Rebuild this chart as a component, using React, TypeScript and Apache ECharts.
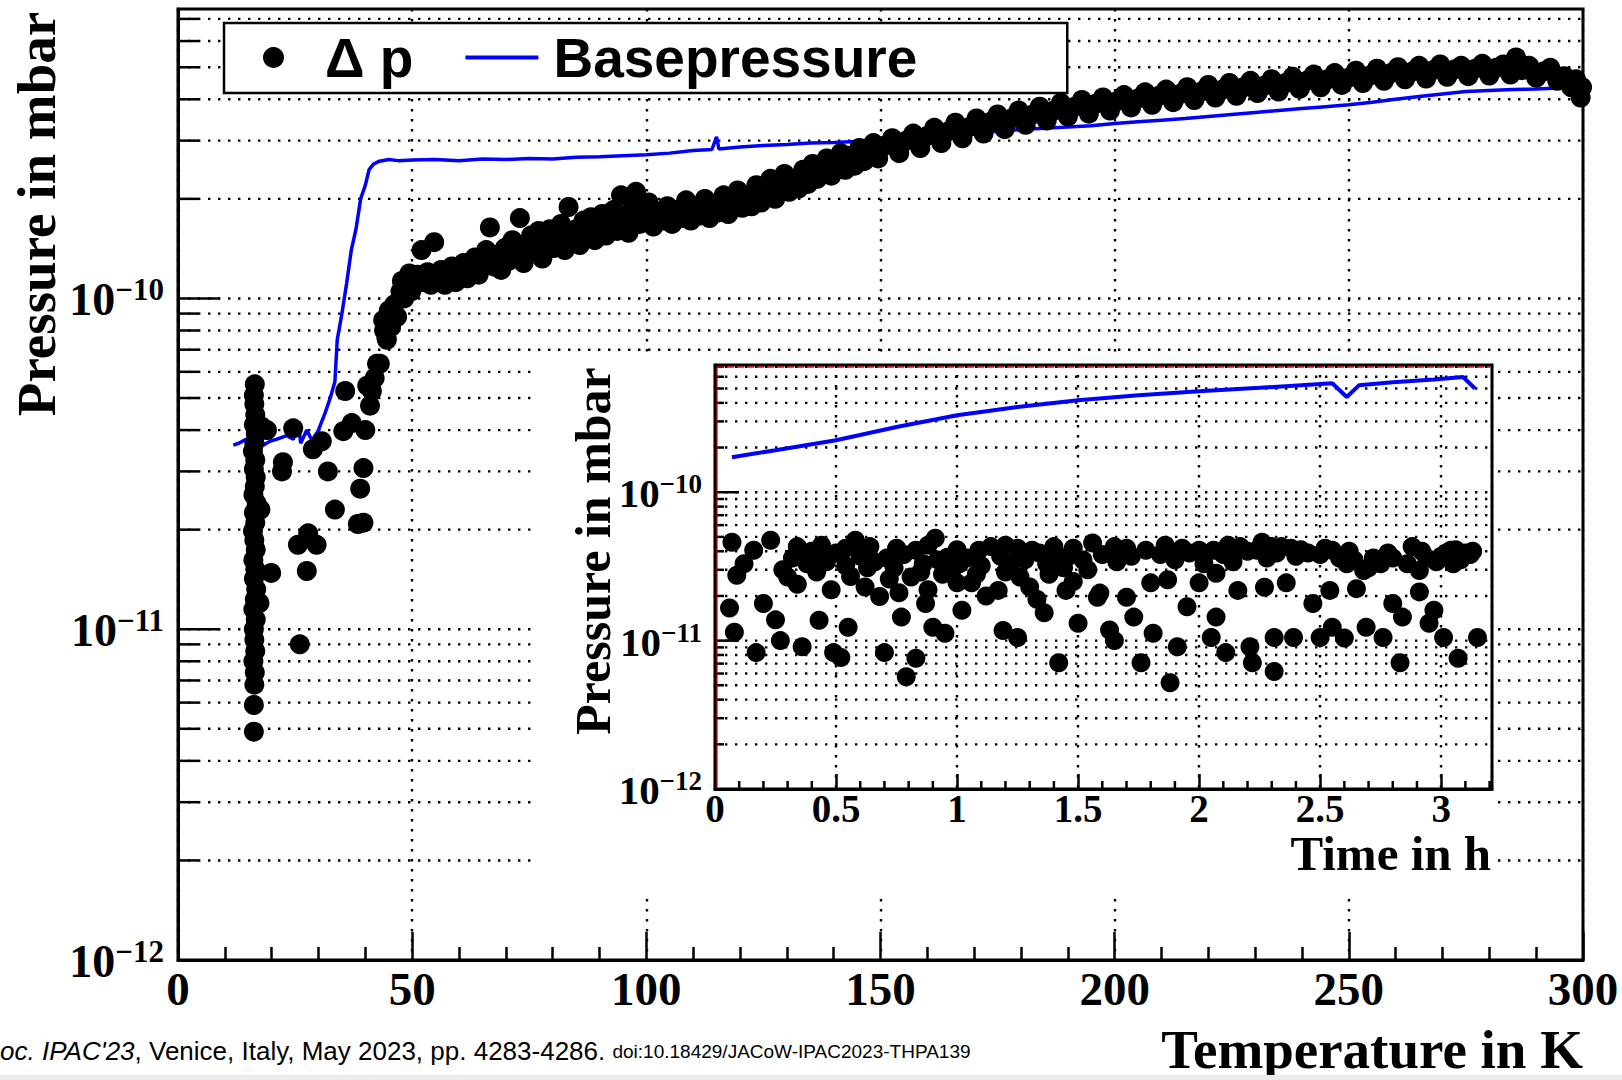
import React, { useEffect, useRef } from "react";
import * as echarts from "echarts";

const SERIF = "'Liberation Serif', 'Times New Roman', serif";
const SANS = "'Liberation Sans', Arial, sans-serif";

// ---------- axes ----------
const mainXMin = 0;
const mainXMax = 300;
const mainXStep = 50;
const mainYMin = 1e-12;
const mainYMax = 7.5e-10;
const mainYMajor = [1e-11, 1e-10];
const mainYMinor = [
  2e-12, 3e-12, 4e-12, 5e-12, 6e-12, 7e-12, 8e-12, 9e-12,
  2e-11, 3e-11, 4e-11, 5e-11, 6e-11, 7e-11, 8e-11, 9e-11,
  2e-10, 3e-10, 4e-10, 5e-10, 6e-10, 7e-10,
];

const insetXMin = 0;
const insetXMax = 3.21;
const insetXStep = 0.5;
const insetXMinor = [
  0.1, 0.2, 0.3, 0.4, 0.6, 0.7, 0.8, 0.9, 1.1, 1.2, 1.3, 1.4, 1.6, 1.7, 1.8, 1.9,
  2.1, 2.2, 2.3, 2.4, 2.6, 2.7, 2.8, 2.9, 3.1, 3.2,
];
const insetYMin = 1e-12;
const insetYMax = 7.2e-10;
const insetYMajor = [1e-11, 1e-10];
const insetYMinor = mainYMinor;

// ---------- main panel data: Temperature (K) vs pressure (mbar) ----------
const dpMain: [number, number][] = [
  [16.2, 4.9e-12], [16.2, 5.9e-12], [16.3, 6.8e-12], [16.4, 7.4e-12], [16.1, 8.0e-12], [16.5, 8.6e-12],
  [16.3, 9.3e-12], [16.2, 1.0e-11], [16.6, 1.07e-11], [16.1, 1.15e-11], [16.4, 1.23e-11], [16.7, 1.32e-11],
  [16.2, 1.42e-11], [16.5, 1.52e-11], [16.1, 1.62e-11], [16.6, 1.74e-11], [16.3, 1.86e-11], [16.0, 1.98e-11],
  [16.5, 2.1e-11], [16.2, 2.25e-11], [16.8, 2.4e-11], [16.1, 2.55e-11], [16.4, 2.7e-11], [16.6, 2.88e-11],
  [16.2, 3.05e-11], [16.5, 3.25e-11], [16.0, 3.45e-11], [16.3, 3.65e-11], [16.6, 3.9e-11], [16.2, 4.15e-11],
  [16.5, 4.45e-11], [16.3, 4.8e-11], [16.2, 5.1e-11], [16.4, 5.5e-11],
  [17.6, 2.3e-11], [17.4, 1.2e-11], [17.8, 4.1e-11], [19.0, 4.0e-11], [19.9, 1.48e-11],
  [22.4, 3.2e-11], [22.2, 3.0e-11], [24.6, 4.05e-11], [25.6, 1.8e-11], [26.0, 9.0e-12], [27.5, 1.5e-11],
  [27.8, 1.95e-11], [28.8, 3.5e-11], [29.6, 1.8e-11], [30.7, 3.7e-11], [32.0, 3.0e-11], [33.5, 2.3e-11],
  [35.3, 3.97e-11], [35.7, 5.25e-11], [37.1, 4.2e-11], [38.4, 2.08e-11], [38.9, 2.66e-11], [39.6, 3.07e-11],
  [39.6, 2.1e-11], [40.0, 4.0e-11], [40.4, 5.45e-11], [41.0, 4.74e-11], [41.4, 5.25e-11], [42.0, 5.75e-11],
  [42.5, 6.35e-11], [43.1, 6.35e-11], [43.8, 8.6e-11], [44.0, 8.0e-11], [44.5, 7.6e-11], [44.6, 7.5e-11],
  [45.0, 9.2e-11],
  [45.5, 8.2e-11], [46.2, 9.6e-11], [46.8, 8.8e-11], [47.5, 1.05e-10], [47.8, 1.13e-10], [48.3, 1.0e-10],
  [49.0, 1.12e-10], [49.4, 1.19e-10], [49.8, 1.05e-10],
  [50.5, 1.1e-10], [51.2, 1.18e-10], [52.0, 1.4e-10], [52.5, 1.12e-10], [53.3, 1.2e-10], [54.0, 1.1e-10],
  [54.7, 1.48e-10], [55.5, 1.15e-10], [56.2, 1.22e-10], [57.0, 1.1e-10], [57.8, 1.18e-10], [58.5, 1.25e-10],
  [59.3, 1.12e-10], [60.0, 1.2e-10],
  [61.0, 1.28e-10], [61.8, 1.15e-10], [62.6, 1.22e-10], [63.4, 1.33e-10], [64.2, 1.18e-10], [65.0, 1.27e-10],
  [65.8, 1.4e-10], [66.6, 1.64e-10], [67.4, 1.25e-10], [68.2, 1.35e-10], [69.0, 1.22e-10], [69.8, 1.42e-10],
  [70.6, 1.3e-10], [71.4, 1.5e-10], [72.2, 1.36e-10], [73.0, 1.75e-10], [73.8, 1.28e-10], [74.6, 1.45e-10],
  [75.4, 1.55e-10], [76.2, 1.38e-10], [77.0, 1.6e-10], [77.8, 1.32e-10], [78.6, 1.5e-10], [79.4, 1.62e-10],
  [80.2, 1.42e-10], [81.0, 1.55e-10], [81.8, 1.68e-10], [82.6, 1.4e-10], [83.4, 1.89e-10], [84.2, 1.52e-10],
  [85.0, 1.62e-10], [85.8, 1.45e-10], [86.6, 1.72e-10], [87.4, 1.56e-10], [88.2, 1.76e-10], [89.0, 1.5e-10],
  [89.8, 1.65e-10], [90.6, 1.8e-10], [91.4, 1.55e-10], [92.2, 1.7e-10], [93.0, 1.85e-10], [93.8, 1.6e-10],
  [94.6, 2.05e-10], [95.4, 1.72e-10], [96.2, 1.58e-10], [97.0, 1.88e-10], [97.8, 2.1e-10], [98.6, 1.68e-10],
  [99.4, 1.8e-10],
  [100.5, 1.95e-10], [101.5, 1.65e-10], [102.5, 1.82e-10], [103.5, 1.72e-10], [104.5, 1.9e-10], [105.5, 1.68e-10],
  [106.5, 1.85e-10], [107.5, 1.75e-10], [108.5, 1.98e-10], [109.5, 1.72e-10], [110.5, 1.88e-10], [111.5, 1.78e-10],
  [112.5, 2.0e-10], [113.5, 1.75e-10], [114.5, 1.92e-10],
  [115.5, 1.82e-10], [116.5, 2.05e-10], [117.5, 1.8e-10], [118.5, 1.95e-10], [119.5, 2.12e-10], [120.5, 1.88e-10],
  [121.5, 2.05e-10], [122.5, 1.9e-10], [123.5, 2.2e-10], [124.5, 1.95e-10], [125.5, 2.1e-10], [126.5, 2.3e-10],
  [127.5, 2.0e-10], [128.5, 2.2e-10], [129.5, 2.38e-10],
  [130.5, 2.1e-10], [131.5, 2.3e-10], [132.5, 2.15e-10], [133.5, 2.45e-10], [134.5, 2.22e-10], [135.5, 2.55e-10],
  [136.5, 2.3e-10], [137.5, 2.5e-10], [138.5, 2.65e-10], [139.5, 2.35e-10], [140.5, 2.6e-10], [141.5, 2.75e-10],
  [142.5, 2.45e-10], [143.5, 2.7e-10], [144.5, 2.52e-10], [145.5, 2.85e-10], [146.5, 2.6e-10], [147.5, 2.8e-10],
  [148.5, 2.95e-10], [149.5, 2.65e-10],
  [151.0, 2.9e-10], [152.5, 3.05e-10], [154.0, 2.75e-10], [155.5, 3.0e-10], [157.0, 3.15e-10], [158.5, 2.85e-10],
  [160.0, 3.1e-10], [161.5, 3.28e-10], [163.0, 2.95e-10], [164.5, 3.2e-10], [166.0, 3.4e-10], [167.5, 3.05e-10],
  [169.0, 3.3e-10], [170.5, 3.5e-10], [172.0, 3.15e-10], [173.5, 3.42e-10], [175.0, 3.6e-10],
  [176.5, 3.25e-10], [178.0, 3.5e-10], [179.5, 3.7e-10], [181.0, 3.35e-10], [182.5, 3.6e-10], [184.0, 3.8e-10],
  [185.5, 3.45e-10], [187.0, 3.7e-10], [188.5, 3.9e-10], [190.0, 3.55e-10], [191.5, 3.8e-10], [193.0, 3.98e-10],
  [194.5, 3.62e-10], [196.0, 3.88e-10], [197.5, 4.05e-10], [199.0, 3.7e-10],
  [200.5, 3.95e-10], [202.0, 4.12e-10], [203.5, 3.78e-10], [205.0, 4.02e-10], [206.5, 4.2e-10], [208.0, 3.85e-10],
  [209.5, 4.1e-10], [211.0, 4.28e-10], [212.5, 3.92e-10], [214.0, 4.15e-10], [215.5, 4.35e-10], [217.0, 3.98e-10],
  [218.5, 4.22e-10], [220.0, 4.42e-10], [221.5, 4.05e-10], [223.0, 4.28e-10], [224.5, 4.48e-10],
  [226.0, 4.1e-10], [227.5, 4.35e-10], [229.0, 4.55e-10], [230.5, 4.18e-10], [232.0, 4.4e-10], [233.5, 4.6e-10],
  [235.0, 4.22e-10], [236.5, 4.48e-10], [238.0, 4.68e-10], [239.5, 4.3e-10], [241.0, 4.55e-10], [242.5, 4.75e-10],
  [244.0, 4.35e-10], [245.5, 4.6e-10], [247.0, 4.8e-10], [248.5, 4.42e-10],
  [250.0, 4.65e-10], [251.5, 4.88e-10], [253.0, 4.48e-10], [254.5, 4.72e-10], [256.0, 4.95e-10], [257.5, 4.55e-10],
  [259.0, 4.8e-10], [260.5, 5.0e-10], [262.0, 4.6e-10], [263.5, 4.85e-10], [265.0, 5.05e-10], [266.5, 4.62e-10],
  [268.0, 4.9e-10], [269.5, 5.1e-10], [271.0, 4.68e-10], [272.5, 4.92e-10], [274.0, 5.05e-10],
  [275.5, 4.7e-10], [277.0, 4.95e-10], [278.5, 5.12e-10], [280.0, 4.72e-10], [281.5, 4.98e-10], [283.0, 5.1e-10],
  [284.5, 4.75e-10], [285.7, 5.35e-10], [287.0, 4.9e-10], [288.5, 5.05e-10], [290.0, 4.65e-10], [291.5, 4.85e-10],
  [293.0, 4.98e-10], [294.5, 4.55e-10], [296.0, 4.7e-10], [297.5, 4.35e-10], [298.5, 4.6e-10], [299.5, 4.05e-10],
  [299.8, 4.35e-10],
];

const baseMain: [number, number][] = [
  [11.8, 3.6e-11], [13.0, 3.65e-11], [14.5, 3.75e-11], [15.5, 3.5e-11], [16.0, 4.6e-11], [16.3, 3.15e-11],
  [16.6, 4.3e-11], [17.0, 3.3e-11], [17.4, 4.0e-11], [18.2, 3.6e-11], [19.6, 3.7e-11], [21.0, 3.75e-11],
  [23.2, 3.85e-11], [24.6, 3.75e-11], [25.7, 4.2e-11], [26.2, 3.65e-11], [27.5, 4.0e-11], [28.6, 3.72e-11],
  [29.9, 3.97e-11], [31.4, 4.5e-11], [32.5, 5.0e-11], [33.5, 5.6e-11], [34.0, 7.5e-11], [35.0, 9.0e-11],
  [36.0, 1.11e-10], [37.0, 1.4e-10], [38.0, 1.62e-10], [39.0, 2.0e-10], [40.0, 2.2e-10], [40.8, 2.45e-10],
  [41.8, 2.55e-10], [43.0, 2.6e-10], [45.0, 2.63e-10], [47.0, 2.61e-10], [50.0, 2.62e-10], [55.0, 2.63e-10],
  [60.0, 2.61e-10], [65.0, 2.64e-10], [70.0, 2.63e-10], [75.0, 2.65e-10], [80.0, 2.64e-10], [85.0, 2.67e-10],
  [90.0, 2.68e-10], [95.0, 2.7e-10], [100.0, 2.72e-10], [105.0, 2.75e-10], [110.0, 2.8e-10], [114.0, 2.82e-10],
  [115.0, 3.08e-10], [115.5, 2.83e-10], [120.0, 2.87e-10], [125.0, 2.9e-10], [130.0, 2.92e-10], [135.0, 2.95e-10],
  [140.0, 2.96e-10], [145.0, 2.98e-10], [150.0, 3.0e-10], [155.0, 3.04e-10], [160.0, 3.08e-10], [165.0, 3.12e-10],
  [170.0, 3.15e-10], [175.0, 3.2e-10], [180.0, 3.24e-10], [185.0, 3.27e-10], [190.0, 3.3e-10], [195.0, 3.33e-10],
  [200.0, 3.38e-10], [205.0, 3.42e-10], [210.0, 3.46e-10], [215.0, 3.5e-10], [220.0, 3.55e-10], [225.0, 3.6e-10],
  [230.0, 3.65e-10], [235.0, 3.7e-10], [240.0, 3.75e-10], [245.0, 3.8e-10], [250.0, 3.85e-10], [255.0, 3.92e-10],
  [260.0, 4.0e-10], [265.0, 4.08e-10], [270.0, 4.15e-10], [275.0, 4.22e-10], [280.0, 4.25e-10], [285.0, 4.28e-10],
  [290.0, 4.3e-10], [295.0, 4.33e-10], [300.0, 4.36e-10],
];

// ---------- inset data: Time (h) vs pressure (mbar) ----------
const dpInset: [number, number][] = [
  [0.07, 4.6e-11], [0.09, 2.76e-11], [0.06, 1.66e-11], [0.08, 1.14e-11], [0.16, 4.07e-11], [0.23, 4.75e-11],
  [0.17, 8.3e-12], [0.25, 1.38e-11], [0.27, 1.0e-11], [0.2, 1.78e-11], [0.3, 2.68e-11], [0.36, 3.9e-11],
  [0.43, 3.65e-11], [0.36, 9.1e-12], [0.43, 1.37e-11], [0.49, 8.3e-12], [0.52, 7.7e-12], [0.58, 4.75e-11],
  [0.55, 1.23e-11], [0.63, 3.1e-11], [0.68, 1.98e-11], [0.7, 8.3e-12], [0.71, 3.6e-11], [0.79, 5.7e-12],
  [0.83, 7.6e-12], [0.77, 1.44e-11], [0.81, 2.68e-11], [0.83, 4.07e-11], [0.91, 4.9e-11], [0.87, 1.78e-11],
  [0.9, 1.23e-11], [0.96, 3.65e-11], [1.0, 2.45e-11], [1.02, 1.6e-11], [0.95, 1.12e-11], [1.09, 4.07e-11],
  [1.14, 4.3e-11], [1.06, 2.45e-11], [1.17, 2.18e-11], [1.19, 1.17e-11], [1.25, 1.05e-11], [1.26, 2.68e-11],
  [1.31, 4.07e-11], [1.37, 3.3e-11], [1.36, 1.54e-11], [1.42, 7.1e-12], [1.45, 2.18e-11], [1.5, 1.31e-11],
  [1.56, 4.55e-11], [1.58, 1.96e-11],
  [1.59, 2.09e-11], [1.63, 1.18e-11], [1.65, 1.0e-11], [1.7, 1.96e-11], [1.73, 1.44e-11], [1.76, 7.1e-12],
  [1.78, 4.07e-11], [1.8, 2.45e-11], [1.81, 1.12e-11], [1.87, 2.57e-11], [1.88, 5.2e-12], [1.91, 9.1e-12],
  [1.95, 1.69e-11], [2.0, 2.45e-11], [2.0, 4.07e-11], [2.06, 4.07e-11], [2.07, 2.84e-11], [2.05, 1.05e-11],
  [2.07, 1.44e-11], [2.11, 8.3e-12], [2.16, 2.18e-11], [2.17, 4.3e-11], [2.21, 9.1e-12], [2.22, 7.1e-12],
  [2.24, 4.07e-11], [2.27, 2.29e-11], [2.31, 1.05e-11], [2.31, 6.2e-12], [2.34, 4.3e-11], [2.36, 2.45e-11],
  [2.39, 1.05e-11], [2.45, 3.9e-11], [2.47, 1.78e-11], [2.5, 1.05e-11], [2.54, 2.18e-11], [2.55, 4.07e-11],
  [2.55, 1.23e-11], [2.61, 3.3e-11], [2.6, 1.04e-11], [2.65, 2.24e-11], [2.68, 2.97e-11], [2.69, 1.23e-11],
  [2.75, 3.3e-11], [2.76, 1.05e-11], [2.8, 1.78e-11], [2.83, 7.1e-12], [2.84, 1.44e-11], [2.88, 4.3e-11],
  [2.91, 2.97e-11], [2.91, 2.13e-11], [2.97, 1.6e-11], [2.95, 1.31e-11], [3.01, 1.05e-11], [3.04, 4.07e-11],
  [3.07, 7.6e-12], [3.05, 3.3e-11], [3.1, 3.9e-11], [3.15, 1.05e-11],
  [0.32, 3.6e-11], [0.38, 3.3e-11], [0.4, 4.0e-11], [0.46, 3.4e-11], [0.5, 3.9e-11], [0.54, 3.2e-11],
  [0.6, 3.7e-11], [0.66, 3.4e-11], [0.74, 3.1e-11], [0.78, 3.8e-11], [0.86, 3.3e-11], [0.92, 3.5e-11],
  [0.98, 3.0e-11], [1.04, 3.6e-11], [1.1, 3.2e-11], [1.18, 3.7e-11], [1.22, 3.3e-11], [1.28, 3.5e-11],
  [1.34, 3.9e-11], [1.4, 3.4e-11], [1.46, 3.7e-11], [1.52, 3.5e-11], [1.6, 3.8e-11], [1.66, 3.4e-11],
  [1.72, 3.7e-11], [1.84, 3.8e-11], [1.9, 3.5e-11], [1.96, 3.9e-11], [2.02, 3.3e-11], [2.1, 3.8e-11],
  [2.14, 3.4e-11], [2.2, 4.0e-11], [2.28, 3.6e-11], [2.32, 3.9e-11], [2.4, 3.7e-11], [2.5, 3.8e-11],
  [2.58, 3.6e-11], [2.64, 3.5e-11], [2.7, 3.1e-11], [2.8, 3.6e-11], [2.86, 3.3e-11], [2.94, 3.6e-11],
  [3.0, 3.7e-11], [3.08, 3.5e-11], [3.12, 3.8e-11],
  [0.12, 3.3e-11], [0.28, 3.0e-11], [0.34, 2.4e-11], [0.42, 2.9e-11], [0.48, 2.2e-11], [0.56, 2.7e-11],
  [0.62, 2.3e-11], [0.72, 2.6e-11], [0.76, 2.1e-11], [0.85, 2.9e-11], [0.88, 2.2e-11], [0.94, 2.8e-11],
  [1.01, 3.3e-11], [1.08, 2.8e-11], [1.12, 2.0e-11], [1.2, 2.9e-11], [1.3, 2.3e-11], [1.33, 1.9e-11],
  [1.38, 2.8e-11], [1.44, 3.1e-11], [1.48, 2.5e-11], [1.54, 3.0e-11],
  [0.34, 4.3e-11], [0.44, 4.4e-11], [0.54, 4.2e-11], [0.64, 4.3e-11], [0.75, 4.2e-11], [0.88, 4.4e-11],
  [1.0, 4.1e-11], [1.2, 4.4e-11], [1.25, 4.2e-11], [1.4, 4.3e-11], [1.48, 4.2e-11], [1.65, 4.3e-11],
  [1.7, 4.2e-11], [1.86, 4.4e-11], [1.93, 4.2e-11], [2.12, 4.4e-11], [2.26, 4.6e-11], [2.3, 4.3e-11],
  [2.38, 4.2e-11], [2.42, 4.1e-11], [2.52, 4.2e-11], [2.62, 4.0e-11], [2.72, 3.6e-11], [2.78, 3.9e-11],
  [2.92, 4.0e-11], [2.98, 3.4e-11], [3.02, 3.9e-11], [3.06, 4.1e-11], [3.13, 4.0e-11],
];

const baseInset: [number, number][] = [
  [0.07, 1.72e-10], [0.25, 1.92e-10], [0.5, 2.24e-10], [0.75, 2.75e-10], [1.0, 3.3e-10], [1.25, 3.75e-10],
  [1.5, 4.17e-10], [1.75, 4.5e-10], [2.0, 4.8e-10], [2.25, 5.05e-10], [2.55, 5.42e-10], [2.61, 4.38e-10],
  [2.66, 5.25e-10], [2.8, 5.5e-10], [2.97, 5.75e-10], [3.09, 5.98e-10], [3.14, 5.0e-10],
];

// ---------- helpers ----------
const DOTTED = { stroke: "#000", lineWidth: 2.4, lineDash: [2.4, 7.6] };
const TICK = { stroke: "#000", lineWidth: 2.5 };

function hGridSeries(xi: number, yi: number, xMin: number, major: number[], minor: number[], majorLen: number, minorLen: number, z: number) {
  const rows = [...minor.map((v) => [xMin, v, 0]), ...major.map((v) => [xMin, v, 1])];
  return {
    type: "custom",
    xAxisIndex: xi,
    yAxisIndex: yi,
    z,
    silent: true,
    data: rows,
    renderItem: (params: any, api: any) => {
      const cs = params.coordSys;
      const y = api.coord([api.value(0), api.value(1)])[1];
      const len = api.value(2) === 1 ? majorLen : minorLen;
      return {
        type: "group",
        children: [
          { type: "line", shape: { x1: cs.x, y1: y, x2: cs.x + cs.width, y2: y }, style: DOTTED },
          { type: "line", shape: { x1: cs.x, y1: y, x2: cs.x + len, y2: y }, style: TICK },
        ],
      };
    },
  };
}

function xMinorTickSeries(xi: number, yi: number, yMin: number, values: number[], len: number, z: number) {
  return {
    type: "custom",
    xAxisIndex: xi,
    yAxisIndex: yi,
    z,
    silent: true,
    data: values.map((v) => [v, yMin]),
    renderItem: (params: any, api: any) => {
      const cs = params.coordSys;
      const x = api.coord([api.value(0), api.value(1)])[0];
      const yb = cs.y + cs.height;
      return { type: "line", shape: { x1: x, y1: yb, x2: x, y2: yb - len }, style: TICK };
    },
  };
}

function powLabel(v: number) {
  const e = Math.round(Math.log10(v));
  return `{b|10}{s|\u2212${Math.abs(e)}}`;
}

function richLabels(big: number, small: number) {
  return {
    b: { fontFamily: SERIF, fontWeight: "bold", fontSize: big, lineHeight: big + 2, verticalAlign: "bottom", color: "#000" },
    s: { fontFamily: SERIF, fontWeight: "bold", fontSize: small, lineHeight: small, verticalAlign: "top", color: "#000" },
  };
}

const splitDotted = { show: true, lineStyle: { color: "#000", width: 2.4, type: [2.4, 7.6] } };

const option: any = {
  animation: false,
  backgroundColor: "#fff",
  legend: {
    left: 224,
    top: 23,
    orient: "horizontal",
    padding: [7, 150, 8, 39],
    itemWidth: 73,
    itemHeight: 21,
    itemGap: 50,
    borderColor: "#000",
    borderWidth: 2.5,
    backgroundColor: "#fff",
    selectedMode: false,
    z: 10,
    textStyle: { fontFamily: SANS, fontWeight: "bold", fontSize: 55, color: "#000", padding: [0, 0, 0, 10] },
    data: [
      { name: "\u0394 p", icon: "circle", itemStyle: { color: "#000", opacity: 1 } },
      { name: "Basepressure", itemStyle: { opacity: 0 }, lineStyle: { width: 4, color: "#0000ff" } },
    ],
  },
  grid: [
    { left: 178, top: 9, width: 1405, height: 951, show: true, borderColor: "#000", borderWidth: 3, backgroundColor: "transparent", z: 0 },
    { left: 715, top: 365, width: 777, height: 424, show: true, borderColor: "#000", borderWidth: 3, backgroundColor: "#fff", z: 5 },
  ],
  xAxis: [
    {
      type: "value",
      gridIndex: 0,
      min: mainXMin,
      max: mainXMax,
      interval: mainXStep,
      z: 0,
      axisLine: { show: true, lineStyle: { color: "#000", width: 3 } },
      axisTick: { show: true, inside: true, length: 28, lineStyle: { color: "#000", width: 2.5 } },
      minorTick: { show: true, splitNumber: 5, length: 13, lineStyle: { color: "#000", width: 2.5 } },
      splitLine: splitDotted,
      axisLabel: { margin: 5, fontFamily: SERIF, fontWeight: "bold", fontSize: 47, color: "#000" },
    },
    {
      type: "value",
      gridIndex: 1,
      min: insetXMin,
      max: insetXMax,
      interval: insetXStep,
      z: 6,
      axisLine: { show: true, lineStyle: { color: "#000", width: 3 } },
      axisTick: { show: true, inside: true, length: 15, lineStyle: { color: "#000", width: 2.5 } },
      splitLine: splitDotted,
      axisLabel: { margin: 3, lineHeight: 32, showMaxLabel: false, fontFamily: SERIF, fontWeight: "bold", fontSize: 39, color: "#000" },
    },
  ],
  yAxis: [
    {
      type: "log",
      logBase: 10,
      gridIndex: 0,
      min: mainYMin,
      max: mainYMax,
      z: 0,
      axisLine: { show: true, lineStyle: { color: "#000", width: 3 } },
      axisTick: { show: false },
      splitLine: { show: false },
      axisLabel: { margin: 14, showMaxLabel: false, formatter: powLabel, rich: richLabels(46, 31) },
    },
    {
      type: "log",
      logBase: 10,
      gridIndex: 1,
      min: insetYMin,
      max: insetYMax,
      z: 6,
      axisLine: { show: true, lineStyle: { color: "#000", width: 3 } },
      axisTick: { show: false },
      splitLine: { show: false },
      axisLabel: { margin: 13, showMaxLabel: false, formatter: powLabel, rich: richLabels(41, 27) },
    },
  ],
  series: [
    hGridSeries(0, 0, mainXMin, mainYMajor, mainYMinor, 42, 21, 1),
    {
      name: "\u0394 p",
      type: "scatter",
      xAxisIndex: 0,
      yAxisIndex: 0,
      z: 3,
      clip: false,
      symbol: "circle",
      symbolSize: 20,
      itemStyle: { color: "#000", opacity: 1 },
      data: dpMain,
    },
    {
      name: "Basepressure",
      type: "line",
      xAxisIndex: 0,
      yAxisIndex: 0,
      z: 3,
      symbol: "none",
      lineStyle: { color: "#0000ff", width: 3.5 },
      itemStyle: { color: "#0000ff" },
      data: baseMain,
    },
    hGridSeries(1, 1, insetXMin, insetYMajor, insetYMinor, 24, 9, 6),
    xMinorTickSeries(1, 1, insetYMin, insetXMinor, 8, 6),
    {
      name: "\u0394 p inset",
      type: "scatter",
      xAxisIndex: 1,
      yAxisIndex: 1,
      z: 7,
      symbol: "circle",
      symbolSize: 19,
      itemStyle: { color: "#000", opacity: 1 },
      data: dpInset,
    },
    {
      name: "Basepressure inset",
      type: "line",
      xAxisIndex: 1,
      yAxisIndex: 1,
      z: 7,
      symbol: "none",
      lineStyle: { color: "#0000ff", width: 4 },
      itemStyle: { color: "#0000ff" },
      data: baseInset,
    },
  ],
  graphic: {
    elements: [
      { type: "rect", z: 4, silent: true, shape: { x: 533, y: 355, width: 962, height: 543 }, style: { fill: "#fff" } },
      { type: "line", z: 8, silent: true, shape: { x1: 717, y1: 367, x2: 1490, y2: 367 }, style: { stroke: "#e00000", lineWidth: 1.5, lineDash: [7, 3] } },
      { type: "line", z: 8, silent: true, shape: { x1: 717, y1: 367, x2: 717, y2: 787 }, style: { stroke: "#e00000", lineWidth: 1.2 } },
      {
        type: "text", z: 10, silent: true, x: 36, y: 214, rotation: Math.PI / 2,
        style: { text: "Pressure in mbar", font: `bold 55px ${SERIF}`, fill: "#000", textAlign: "center", textVerticalAlign: "middle" },
      },
      {
        type: "text", z: 10, silent: true, x: 1583, y: 1049,
        style: { text: "Temperature in K", font: `bold 55px ${SERIF}`, lineHeight: 52, fill: "#000", textAlign: "right", textVerticalAlign: "middle" },
      },
      {
        type: "text", z: 10, silent: true, x: 593, y: 551, rotation: Math.PI / 2,
        style: { text: "Pressure in mbar", font: `bold 50px ${SERIF}`, fill: "#000", textAlign: "center", textVerticalAlign: "middle" },
      },
      {
        type: "text", z: 10, silent: true, x: 1491, y: 853,
        style: { text: "Time in h", font: `bold 49px ${SERIF}`, lineHeight: 40, fill: "#000", textAlign: "right", textVerticalAlign: "middle" },
      },
      {
        type: "text", z: 10, silent: true, x: 0, y: 1051,
        style: {
          text: "{i|oc. IPAC'23}, Venice, Italy, May 2023, pp. 4283-4286. {s|doi:10.18429/JACoW-IPAC2023-THPA139}",
          font: `26px ${SANS}`,
          fill: "#000",
          textAlign: "left",
          textVerticalAlign: "middle",
          rich: {
            i: { fontFamily: SANS, fontSize: 26, fontStyle: "italic", fill: "#000" },
            s: { fontFamily: SANS, fontSize: 19, fill: "#000" },
          },
        },
      },
      { type: "rect", z: 10, silent: true, shape: { x: 0, y: 1075, width: 1622, height: 5 }, style: { fill: "#ececec" } },
    ],
  },
};

export default function App() {
  const ref = useRef<HTMLDivElement>(null);
  useEffect(() => {
    if (!ref.current) return;
    const chart = echarts.init(ref.current, null, { renderer: "svg" });
    chart.setOption(option);
    return () => chart.dispose();
  }, []);
  return (
    <div
      ref={ref}
      style={{ position: "fixed", left: 0, top: 0, width: 1622, height: 1080, background: "#fff" }}
    />
  );
}
